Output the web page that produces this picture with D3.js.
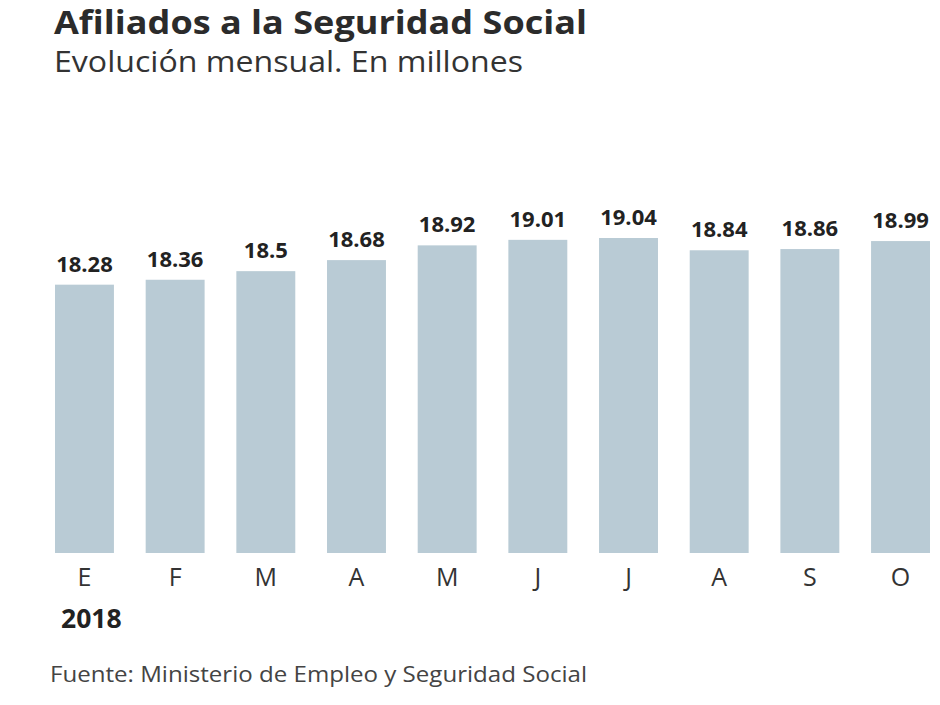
<!DOCTYPE html>
<html>
<head>
<meta charset="utf-8">
<script src="https://cdn.jsdelivr.net/npm/d3@7"></script>
<style>
  body { margin: 0; background: #fff; }
  svg { display: block; font-family: "Open Sans", sans-serif; }
</style>
</head>
<body>
<svg id="chart" width="940" height="705"></svg>
<script>
// months shown on the x axis
let months = ['E', 'F', 'M', 'A', 'M', 'J', 'J', 'A', 'S', 'O'];
// afiliados, millions
let values = [18.28, 18.36, 18.5, 18.68, 18.92, 19.01, 19.04, 18.84, 18.86, 18.99];
let year = '2018';

let svg = d3.select('#chart');

// titles (source image is a bit wider than the font, so stretch to fit)
svg.append('text')
    .attr('x', 54)
    .attr('y', 34)
    .attr('font-size', 32)
    .attr('font-weight', 700)
    .attr('fill', '#2b2b2b')
    .attr('textLength', 533)
    .attr('lengthAdjust', 'spacingAndGlyphs')
    .text('Afiliados a la Seguridad Social');

svg.append('text')
    .attr('x', 54)
    .attr('y', 72)
    .attr('font-size', 30)
    .attr('fill', '#333')
    .attr('textLength', 469)
    .attr('lengthAdjust', 'spacingAndGlyphs')
    .text('Evolución mensual. En millones');

// scales
let x = d3.scaleBand()
    .domain(d3.range(values.length))
    .range([55, 930])
    .paddingInner(0.35)
    .paddingOuter(0);

let y = d3.scaleLinear()
    .domain([13.91, 19.04])
    .range([553, 238]);

// bars
svg.selectAll('rect.bar')
    .data(values)
    .enter()
    .append('rect')
    .attr('class', 'bar')
    .attr('x', function(d, i){ return x(i); })
    .attr('y', function(d){ return y(d); })
    .attr('width', x.bandwidth())
    .attr('height', function(d){ return y.range()[0] - y(d); })
    .attr('fill', '#b9cbd5');

// value labels
svg.selectAll('text.val')
    .data(values)
    .enter()
    .append('text')
    .attr('class', 'val')
    .attr('x', function(d, i){ return x(i) + x.bandwidth() / 2; })
    .attr('y', function(d){ return y(d) - 13; })
    .attr('text-anchor', 'middle')
    .attr('font-size', 22)
    .attr('font-weight', 700)
    .attr('fill', '#222')
    .text(function(d){ return d; });

// x axis, no line or ticks
let axis = svg.append('g')
    .attr('transform', 'translate(0,553)')
    .call(d3.axisBottom(x).tickSize(0).tickPadding(15).tickFormat(function(i){ return months[i]; }));
axis.select('.domain').remove();
axis.selectAll('text')
    .attr('font-family', '"Open Sans", sans-serif')
    .attr('font-size', 25)
    .attr('fill', '#333')
    .attr('dy', '0.71em');

svg.append('text')
    .attr('x', 61)
    .attr('y', 628)
    .attr('font-size', 26.5)
    .attr('font-weight', 700)
    .attr('fill', '#222')
    .text(year);

// source
svg.append('text')
    .attr('x', 50)
    .attr('y', 682)
    .attr('font-size', 22)
    .attr('fill', '#444')
    .attr('textLength', 537)
    .attr('lengthAdjust', 'spacingAndGlyphs')
    .text('Fuente: Ministerio de Empleo y Seguridad Social');
</script>
</body>
</html>
